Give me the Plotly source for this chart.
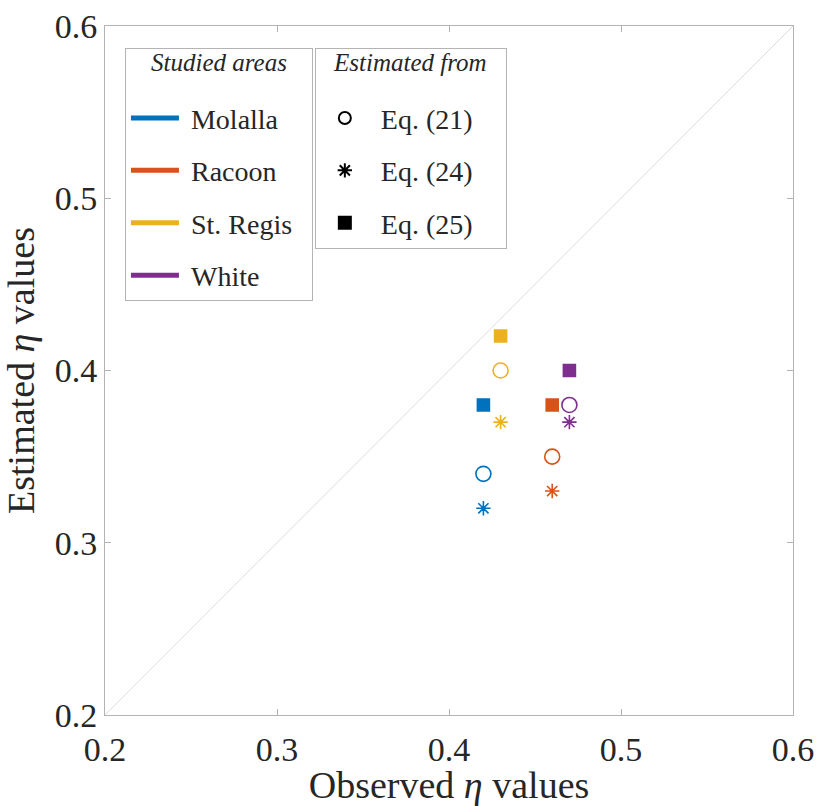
import plotly.graph_objects as go

areas = ["Molalla", "Racoon", "St. Regis", "White"]
colors = ["#0072BD", "#D95319", "#EDB120", "#7E2F8E"]
observed = [0.42, 0.46, 0.43, 0.47]
eq21 = [0.34, 0.35, 0.40, 0.38]
eq24 = [0.32, 0.33, 0.37, 0.37]
eq25 = [0.38, 0.38, 0.42, 0.40]
eq_names = ["Eq. (21)", "Eq. (24)", "Eq. (25)"]
eq_symbols = ["circle-open", "asterisk-open", "square"]
eq_sizes = [15, 12, 12]
diag = [0.2, 0.6]

FONT = "Liberation Serif"
TXT = "#262626"
NB = "&nbsp;"

fig = go.Figure()
fig.add_trace(go.Scatter(x=diag, y=diag, mode="lines",
                         line=dict(color="#dcdcdc", width=1),
                         showlegend=False, hoverinfo="skip"))

for vals, sym, sz in zip([eq21, eq24, eq25], eq_symbols, eq_sizes):
    for i in range(len(areas)):
        fig.add_trace(go.Scatter(
            x=[observed[i]], y=[vals[i]], mode="markers",
            marker=dict(symbol=sym, size=sz, color=colors[i],
                        line=dict(width=1.6, color=colors[i])),
            showlegend=False))

longest_area = max(areas, key=len)
for i, a in enumerate(areas):
    label = NB + a + (NB * 2 if a == longest_area else "")
    fig.add_trace(go.Scatter(x=[None], y=[None], mode="lines", name=label,
                             line=dict(color=colors[i], width=4),
                             legend="legend", legendgroup="a" + str(i)))

for k, (name, sym, sz) in enumerate(zip(eq_names, eq_symbols, eq_sizes)):
    label = NB + name + (NB * 4 if k == 0 else "")
    fig.add_trace(go.Scatter(x=[None], y=[None], mode="markers", name=label,
                             marker=dict(symbol=sym, size=sz - 2, color="black",
                                         line=dict(width=1.6, color="black")),
                             legend="legend2", legendgroup=name))

axis_common = dict(range=[0.2, 0.6], dtick=0.1, tick0=0.2, showgrid=False,
                   zeroline=False, showline=True, mirror="ticks",
                   linecolor="#b4b4b4", linewidth=1, ticks="inside",
                   ticklen=6, tickcolor="#b4b4b4", automargin=False,
                   ticklabeloverflow="allow",
                   tickfont=dict(family=FONT, size=34, color=TXT),
                   tickformat=".1f")


def legend_title(t):
    return "<span style='font-size:25px'><i>" + t + "</i></span><br> "


fig.update_layout(
    width=817, height=806,
    margin=dict(l=105, r=24, t=26, b=91),
    paper_bgcolor="white", plot_bgcolor="white",
    font=dict(family=FONT, color=TXT),
    xaxis=dict(**axis_common, ticklabelstandoff=4,
               title=dict(text="Observed <i>η</i> values",
                          font=dict(family=FONT, size=38, color=TXT),
                          standoff=11)),
    yaxis=dict(**axis_common,
               title=dict(text="Estimated <i>η</i> values",
                          font=dict(family=FONT, size=38, color=TXT),
                          standoff=8)),
    legend=dict(x=0.029, y=0.968, xanchor="left", yanchor="top",
                bgcolor="white", bordercolor="#b4b4b4", borderwidth=1,
                font=dict(family=FONT, size=28, color=TXT),
                title=dict(text=legend_title("Studied areas"), side="top center",
                           font=dict(family=FONT, size=17, color=TXT)),
                traceorder="grouped", tracegroupgap=13,
                itemsizing="constant", itemwidth=48),
    legend2=dict(x=0.305, y=0.968, xanchor="left", yanchor="top",
                 bgcolor="white", bordercolor="#b4b4b4", borderwidth=1,
                 font=dict(family=FONT, size=28, color=TXT),
                 title=dict(text=legend_title("Estimated from"), side="top center",
                            font=dict(family=FONT, size=17, color=TXT)),
                 traceorder="grouped", tracegroupgap=13,
                 itemsizing="constant", itemwidth=48),
)

fig.write_html("out.html", config={"displayModeBar": False},
               post_script="document.body.style.margin='0px';")
